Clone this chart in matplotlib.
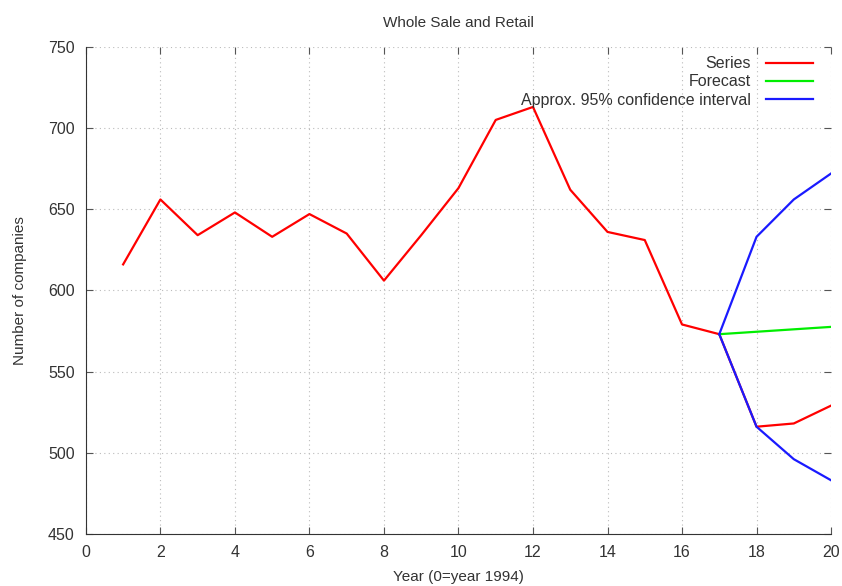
import numpy as np
import matplotlib.pyplot as plt

plt.rcParams['font.family'] = ['Liberation Sans', 'DejaVu Sans']

years = list(range(1, 21))
companies = [616, 656, 634, 648, 633, 647, 635, 606, 634, 663,
             705, 713, 662, 636, 631, 579, 573, 516, 518, 529]
fc_years = [17, 18, 19, 20]
forecast = [573, 574.5, 576, 577.5]
ci_upper = [573, 633, 656, 672]
ci_lower = [573, 516, 496, 483]

txt = '#333333'
fig = plt.figure(figsize=(8.42, 5.86), dpi=100)
ax = fig.add_axes([0.102, 0.089, 0.885, 0.831])

ax.plot(years, companies, color='#ff0000', lw=1.6, label='Series')
ax.plot(fc_years, forecast, color='#00ee00', lw=1.6, label='Forecast')
ax.plot(fc_years, ci_upper, color='#1a1aff', lw=1.6, label='Approx. 95% confidence interval')
ax.plot(fc_years, ci_lower, color='#1a1aff', lw=1.6)

ax.set_xlim(0, 20)
ax.set_ylim(450, 750)
ax.set_xticks(range(0, 21, 2))
ax.set_yticks(range(450, 751, 50))
ax.grid(True, color='#bbbbbb', linestyle=(0, (1, 3)), lw=0.8)
for s in ['top', 'right']:
    ax.spines[s].set_visible(False)
for s in ['left', 'bottom']:
    ax.spines[s].set_color('#333333')
ax.tick_params(direction='in', top=True, right=True, length=5, colors='#555555',
               labelcolor=txt, labelsize=11.5, pad=8)

ax.set_title('Whole Sale and Retail', fontsize=11, color=txt, pad=14)
ax.set_xlabel('Year (0=year 1994)', fontsize=11, color=txt, labelpad=7)
ax.set_ylabel('Number of companies', fontsize=11, color=txt, labelpad=15)

leg = ax.legend(loc='upper right', frameon=False, markerfirst=False, fontsize=11.5,
                handlelength=3.0, handletextpad=0.9, labelspacing=0.2,
                borderaxespad=0.0, bbox_to_anchor=(0.985, 0.994))
for t in leg.get_texts():
    t.set_color(txt)

fig.savefig('out.png', dpi=100)
